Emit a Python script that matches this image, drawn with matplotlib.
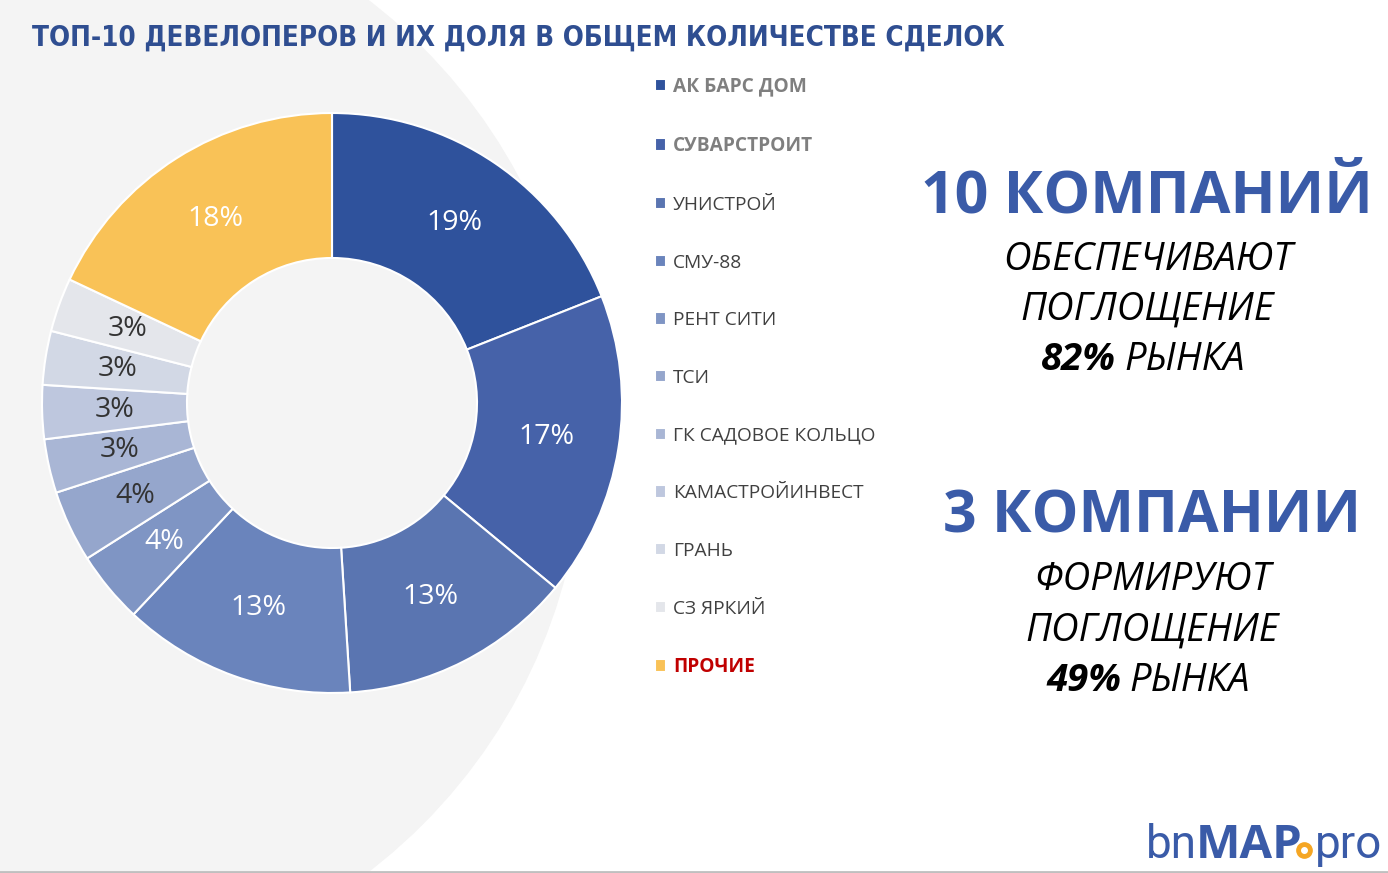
import matplotlib.pyplot as plt
from matplotlib.patches import Circle

W, H = 1388, 873

# данные
companies = ['АК БАРС ДОМ', 'СУВАРСТРОИТ', 'УНИСТРОЙ', 'СМУ-88', 'РЕНТ СИТИ', 'ТСИ',
             'ГК САДОВОЕ КОЛЬЦО', 'КАМАСТРОЙИНВЕСТ', 'ГРАНЬ', 'СЗ ЯРКИЙ', 'ПРОЧИЕ']
shares = [19, 17, 13, 13, 4, 4, 3, 3, 3, 3, 18]
colors = ['#2F529C', '#4662A9', '#5A75B1', '#6A84BC', '#7F95C4', '#95A6CC',
          '#A9B6D5', '#BEC7DE', '#D2D8E5', '#E4E6EB', '#F9C257']
label_colors = ['white'] * 5 + ['#333333'] * 5 + ['white']

BLUE = '#3A5BA8'
TITLE_BLUE = '#2F4E91'

plt.rcParams['font.family'] = ['Open Sans', 'DejaVu Sans']


def py(y):
    # координата y из пикселей картинки (сверху вниз)
    return H - y


fig = plt.figure(figsize=(W / 100, H / 100), dpi=100)
ax = fig.add_axes([0, 0, 1, 1])

# светло-серый круг на фоне
ax.add_patch(Circle((34, py(436)), 549, color='#F4F4F4', zorder=0))

wedges, texts, autotexts = ax.pie(
    shares, colors=colors, startangle=90, counterclock=False,
    center=(332, py(403)), radius=290,
    autopct='%.0f%%', pctdistance=0.75,
    wedgeprops=dict(width=145, edgecolor='white', linewidth=1.5),
    textprops=dict(fontsize=20.5),
)
for t, c in zip(autotexts, label_colors):
    t.set_color(c)

ax.set_xlim(0, W)
ax.set_ylim(0, H)
ax.set_aspect('equal')
ax.axis('off')

# заголовок
ax.text(32, py(38), 'ТОП-10 ДЕВЕЛОПЕРОВ И ИХ ДОЛЯ В ОБЩЕМ КОЛИЧЕСТВЕ СДЕЛОК',
        fontsize=19.9, fontweight='bold', family='DejaVu Sans', fontstretch='condensed',
        color=TITLE_BLUE, ha='left', va='center')

# легенда
leg = ax.legend(wedges, companies, loc='upper left', bbox_to_anchor=(645, py(67)),
                bbox_transform=ax.transData, frameon=False, fontsize=13.8,
                handlelength=0.6, handleheight=0.6, handletextpad=0.35,
                labelspacing=2.07, borderpad=0)
for i, t in enumerate(leg.get_texts()):
    if i < 2:
        t.set_color('#7F7F7F')
        t.set_fontweight('bold')
    elif i == len(companies) - 1:
        t.set_color('#C00000')
        t.set_fontweight('bold')
    else:
        t.set_color('#404040')

# правый блок
ax.text(1147, py(197), '10 КОМПАНИЙ', fontsize=42.5, fontweight='bold', color=BLUE,
        ha='center', va='center')
ax.text(1148, py(260), 'ОБЕСПЕЧИВАЮТ', fontsize=27.5, style='italic', color='black',
        ha='center', va='center')
ax.text(1147, py(310), 'ПОГЛОЩЕНИЕ', fontsize=27.5, style='italic', color='black',
        ha='center', va='center')
ax.text(1116, py(360), '82%', fontsize=27.5, style='italic', fontweight='bold',
        color='black', ha='right', va='center')
ax.text(1124, py(360), 'РЫНКА', fontsize=27.5, style='italic', color='black',
        ha='left', va='center')

ax.text(1152, py(517), '3 КОМПАНИИ', fontsize=42.5, fontweight='bold', color=BLUE,
        ha='center', va='center')
ax.text(1153, py(580), 'ФОРМИРУЮТ', fontsize=27.5, style='italic', color='black',
        ha='center', va='center')
ax.text(1152, py(631), 'ПОГЛОЩЕНИЕ', fontsize=27.5, style='italic', color='black',
        ha='center', va='center')
ax.text(1121, py(681), '49%', fontsize=27.5, style='italic', fontweight='bold',
        color='black', ha='right', va='center')
ax.text(1129, py(681), 'РЫНКА', fontsize=27.5, style='italic', color='black',
        ha='left', va='center')

# логотип
ax.text(1146, py(845), 'bn', fontsize=33, color=BLUE, ha='left', va='center',
        family='Roboto')
ax.text(1196, py(845), 'MAP', fontsize=34, color=BLUE, ha='left', va='center',
        fontweight='bold')
ax.plot([1304], [py(850)], marker='o', markersize=11, color='#F5A623', zorder=5)
ax.plot([1304], [py(850)], marker='o', markersize=4, color='white', zorder=6)
ax.text(1315, py(845), 'pro', fontsize=33, color=BLUE, ha='left', va='center',
        family='Roboto')

ax.axhline(py(871.5), color='#BFBFBF', linewidth=2)

fig.savefig('out.png', dpi=100)
